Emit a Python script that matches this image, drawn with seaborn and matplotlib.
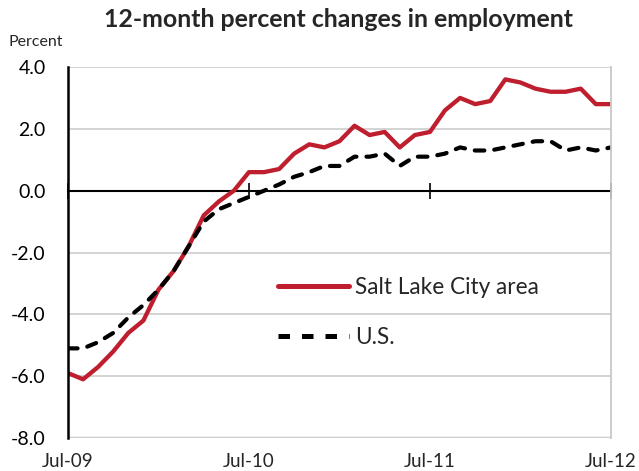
import matplotlib
matplotlib.use("Agg")
import matplotlib.pyplot as plt
import matplotlib.transforms as mtransforms
import seaborn as sns
import pandas as pd
import numpy as np

months = list(range(37))  # Jul-09 .. Jul-12, monthly
salt_lake = [-5.9, -6.1, -5.7, -5.2, -4.6, -4.2, -3.2, -2.6, -1.8, -0.8,
             -0.35, 0.0, 0.6, 0.6, 0.7, 1.2, 1.5, 1.4, 1.6, 2.1,
             1.8, 1.9, 1.4, 1.8, 1.9, 2.6, 3.0, 2.8, 2.9, 3.6,
             3.5, 3.3, 3.2, 3.2, 3.3, 2.8, 2.8]
us = [-5.1, -5.1, -4.9, -4.6, -4.1, -3.7, -3.2, -2.6, -1.8, -1.0,
      -0.6, -0.4, -0.2, 0.0, 0.2, 0.45, 0.6, 0.8, 0.8, 1.1,
      1.1, 1.2, 0.8, 1.1, 1.1, 1.2, 1.4, 1.3, 1.3, 1.4,
      1.5, 1.6, 1.6, 1.3, 1.4, 1.3, 1.4]
series_names = ["Salt Lake City area", "U.S."]
tick_pos = [0, 12, 24, 36]
tick_labels = ["Jul-09", "Jul-10", "Jul-11", "Jul-12"]
y_ticks = [-8, -6, -4, -2, 0, 2, 4]

df = pd.DataFrame({
    "month": months * 2,
    "value": salt_lake + us,
    "series": [series_names[0]] * len(months) + [series_names[1]] * len(months),
})

sns.set_theme(style="white")
plt.rcParams["font.family"] = ["Lato", "DejaVu Sans"]

fig = plt.figure(figsize=(6.39, 4.71), dpi=100)
ax = fig.add_axes([0.1064, 0.070, 0.8496, 0.7877])

sns.lineplot(data=df, x="month", y="value", hue="series", style="series",
             palette={series_names[0]: "#BE1E2D", series_names[1]: "black"},
             dashes={series_names[0]: "", series_names[1]: (2.3, 2.4)},
             ax=ax, legend=True)
lines = ax.get_lines()
lines[0].set_linewidth(3.1)
lines[0].set_solid_capstyle("butt")
lines[1].set_linewidth(3.0)
lines[1].set_dash_capstyle("round")

ax.set_xlim(0, 36)
ax.set_ylim(-8, 4)
ax.set_yticks(y_ticks)
ax.set_yticklabels([f"{v:.1f}" for v in y_ticks], fontsize=14, color="black")
ax.yaxis.grid(True, color="#D0D0D0", linewidth=1.3)
ax.set_axisbelow(True)
ax.tick_params(axis="y", length=0, pad=16)

# x axis at zero with crossing ticks
ax.spines["bottom"].set_position(("data", 0))
ax.spines["bottom"].set_color("black")
ax.spines["bottom"].set_linewidth(1.5)
ax.spines["bottom"].set_zorder(1.5)
ax.set_xticks(tick_pos)
ax.tick_params(axis="x", direction="inout", length=12, width=1.2,
               color="black", labelbottom=False, bottom=True)
trans = mtransforms.blended_transform_factory(ax.transData, ax.transAxes)
for p, lab in zip(tick_pos, tick_labels):
    ax.text(p, -0.04, lab, transform=trans, ha="center", va="top", fontsize=13.5)

ax.spines["left"].set_color("black")
ax.spines["left"].set_linewidth(1.8)
ax.spines["top"].set_visible(False)
ax.spines["right"].set_visible(True)
ax.spines["right"].set_color("#C8C8C8")
ax.spines["right"].set_linewidth(1.3)
ax.axhline(-8, color="#C0C0C0", linewidth=2.5, zorder=0.5)

ax.set_xlabel("")
ax.set_ylabel("")

leg = ax.legend(loc="upper left", bbox_to_anchor=(0.35, 0.49), frameon=False,
                fontsize=16.3, handlelength=3.1, labelspacing=1.3, handletextpad=0.3)
for h in leg.get_lines():
    h.set_linewidth(3.6)

fig.text(0.529, 0.958, "12-month percent changes in employment", ha="center", va="center",
         fontsize=17.9, fontweight="bold")
fig.text(0.013, 0.91, "Percent", ha="left", va="center", fontsize=11.5)

fig.savefig("out.png", dpi=100)
